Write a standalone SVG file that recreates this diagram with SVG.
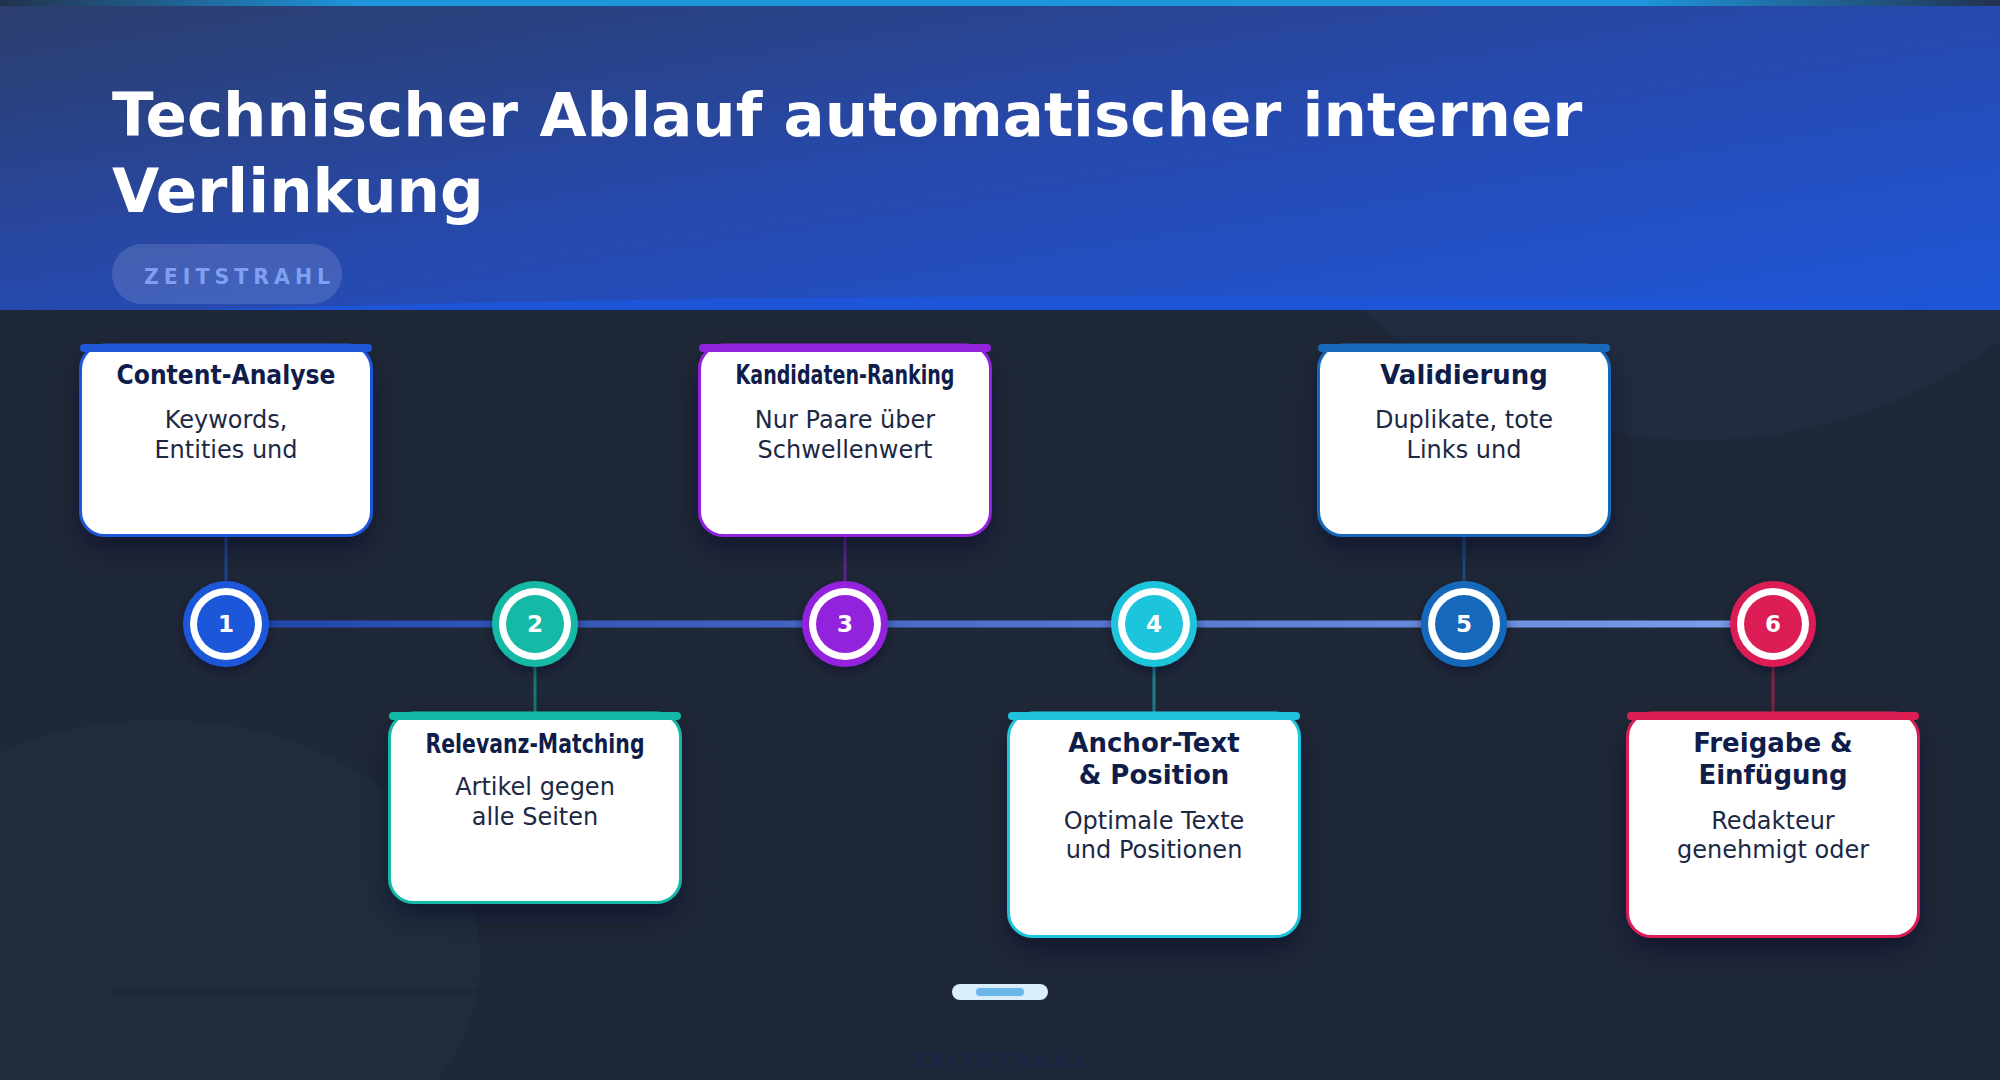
<svg xmlns="http://www.w3.org/2000/svg" width="2000" height="1080" viewBox="0 0 2000 1080">
<defs>
  <linearGradient id="hdr" x1="0" y1="0" x2="1" y2="1">
    <stop offset="0" stop-color="#2c3e6c"/>
    <stop offset="0.5" stop-color="#2649ad"/>
    <stop offset="1" stop-color="#1f56d8"/>
  </linearGradient>
  <linearGradient id="strip" x1="0" y1="0" x2="1" y2="0">
    <stop offset="0" stop-color="#22324e"/>
    <stop offset="0.18" stop-color="#1e96dc"/>
    <stop offset="0.82" stop-color="#1e96dc"/>
    <stop offset="1" stop-color="#22324e"/>
  </linearGradient>
  <linearGradient id="tl" gradientUnits="userSpaceOnUse" x1="226" y1="0" x2="1773" y2="0">
    <stop offset="0" stop-color="#1f44ab"/>
    <stop offset="1" stop-color="#7c9eec"/>
  </linearGradient>
  <filter id="sh" x="-30%" y="-30%" width="160%" height="180%">
    <feDropShadow dx="0" dy="12" stdDeviation="14" flood-color="#0a1020" flood-opacity="0.45"/>
  </filter>
  <filter id="csh" x="-50%" y="-50%" width="200%" height="200%">
    <feDropShadow dx="0" dy="4" stdDeviation="6" flood-color="#0a1020" flood-opacity="0.45"/>
  </filter>
</defs>
<style>
  text { font-family: "DejaVu Sans", "Liberation Sans", sans-serif; }
  .title { font-weight: 700; font-size: 61px; fill: #ffffff; }
  .tag { font-weight: 700; font-size: 20.5px; letter-spacing: 5px; fill: #7f9ff0; }
  .ct { font-weight: 700; font-size: 26px; fill: #0f1d4a; text-anchor: middle; }
  .cd { font-size: 24px; fill: #1c2844; text-anchor: middle; }
  .num { font-weight: 700; font-size: 23px; fill: #ffffff; text-anchor: middle; }
  .card { fill: #ffffff; stroke-width: 3; }
  .conn { stroke-width: 3; fill: none; stroke-opacity: 0.55; }
</style>

<!-- background -->
<rect x="0" y="0" width="2000" height="1080" fill="#1f2838"/>
<circle cx="1700" cy="-62" r="502" fill="#212c41"/>
<ellipse cx="160" cy="960" rx="320" ry="240" fill="#1f2d3b"/>
<line x1="112" y1="992" x2="1888" y2="992" stroke="#1c2534" stroke-width="1.5"/>

<!-- header -->
<g id="header">
  <rect x="0" y="0" width="2000" height="310" fill="url(#hdr)"/>
  <path d="M200 310 Q1000 285 2000 306 L2000 310 Z" fill="#1e55d8"/>
  <rect x="0" y="0" width="2000" height="6" fill="url(#strip)"/>
  <text class="title" x="112" y="136">Technischer Ablauf automatischer interner</text>
  <text class="title" x="112" y="212">Verlinkung</text>
  <rect x="112" y="244" width="230" height="60" rx="30" fill="#ffffff" fill-opacity="0.13"/>
  <text class="tag" x="144" y="284">ZEITSTRAHL</text>
</g>

<!-- timeline -->
<line x1="226" y1="624" x2="1773" y2="624" stroke="url(#tl)" stroke-width="7"/>

<!-- connectors -->
<g id="connectors">
  <line class="conn" x1="226" y1="537" x2="226" y2="581" stroke="#1f57d9"/>
  <line class="conn" x1="535" y1="667" x2="535" y2="712" stroke="#14b8a6"/>
  <line class="conn" x1="845" y1="537" x2="845" y2="581" stroke="#9322dc"/>
  <line class="conn" x1="1154" y1="667" x2="1154" y2="712" stroke="#1fc4dc"/>
  <line class="conn" x1="1464" y1="537" x2="1464" y2="581" stroke="#1769ba"/>
  <line class="conn" x1="1773" y1="667" x2="1773" y2="712" stroke="#dc1e55"/>
</g>

<!-- node 1 -->
<g id="node1">
  <rect class="card" x="80.5" y="345" width="291" height="190.5" rx="24" stroke="#1f57d9" filter="url(#sh)"/>
  <rect x="80" y="344" width="292" height="8" rx="4" fill="#1f57d9"/>
  <text class="ct" x="226" y="384" textLength="219" lengthAdjust="spacingAndGlyphs">Content-Analyse</text>
  <text class="cd" x="226" y="428">Keywords,</text>
  <text class="cd" x="226" y="457.5">Entities und</text>
  <g filter="url(#csh)">
    <circle cx="226" cy="624" r="43" fill="#1f57d9"/>
    <circle cx="226" cy="624" r="36" fill="#ffffff"/>
    <circle cx="226" cy="624" r="29" fill="#1f57d9"/>
  </g>
  <text class="num" x="226" y="632">1</text>
</g>

<!-- node 2 -->
<g id="node2">
  <rect class="card" x="389.5" y="713" width="291" height="189.5" rx="24" stroke="#14b8a6" filter="url(#sh)"/>
  <rect x="389" y="712" width="292" height="8" rx="4" fill="#14b8a6"/>
  <text class="ct" x="535" y="752.5" textLength="219" lengthAdjust="spacingAndGlyphs">Relevanz-Matching</text>
  <text class="cd" x="535" y="795">Artikel gegen</text>
  <text class="cd" x="535" y="824.5">alle Seiten</text>
  <g filter="url(#csh)">
    <circle cx="535" cy="624" r="43" fill="#14b8a6"/>
    <circle cx="535" cy="624" r="36" fill="#ffffff"/>
    <circle cx="535" cy="624" r="29" fill="#14b8a6"/>
  </g>
  <text class="num" x="535" y="632">2</text>
</g>

<!-- node 3 -->
<g id="node3">
  <rect class="card" x="699.5" y="345" width="291" height="190.5" rx="24" stroke="#9322dc" filter="url(#sh)"/>
  <rect x="699" y="344" width="292" height="8" rx="4" fill="#9322dc"/>
  <text class="ct" x="845" y="384" textLength="219" lengthAdjust="spacingAndGlyphs">Kandidaten-Ranking</text>
  <text class="cd" x="845" y="428">Nur Paare über</text>
  <text class="cd" x="845" y="457.5">Schwellenwert</text>
  <g filter="url(#csh)">
    <circle cx="845" cy="624" r="43" fill="#9322dc"/>
    <circle cx="845" cy="624" r="36" fill="#ffffff"/>
    <circle cx="845" cy="624" r="29" fill="#9322dc"/>
  </g>
  <text class="num" x="845" y="632">3</text>
</g>

<!-- node 4 -->
<g id="node4">
  <rect class="card" x="1008.5" y="713" width="291" height="223.5" rx="24" stroke="#1fc4dc" filter="url(#sh)"/>
  <rect x="1008" y="712" width="292" height="8" rx="4" fill="#1fc4dc"/>
  <text class="ct" x="1154" y="752">Anchor-Text</text>
  <text class="ct" x="1154" y="783.5">&amp; Position</text>
  <text class="cd" x="1154" y="828.5">Optimale Texte</text>
  <text class="cd" x="1154" y="858">und Positionen</text>
  <g filter="url(#csh)">
    <circle cx="1154" cy="624" r="43" fill="#1fc4dc"/>
    <circle cx="1154" cy="624" r="36" fill="#ffffff"/>
    <circle cx="1154" cy="624" r="29" fill="#1fc4dc"/>
  </g>
  <text class="num" x="1154" y="632">4</text>
</g>

<!-- node 5 -->
<g id="node5">
  <rect class="card" x="1318.5" y="345" width="291" height="190.5" rx="24" stroke="#1769ba" filter="url(#sh)"/>
  <rect x="1318" y="344" width="292" height="8" rx="4" fill="#1769ba"/>
  <text class="ct" x="1464" y="384">Validierung</text>
  <text class="cd" x="1464" y="428">Duplikate, tote</text>
  <text class="cd" x="1464" y="457.5">Links und</text>
  <g filter="url(#csh)">
    <circle cx="1464" cy="624" r="43" fill="#1769ba"/>
    <circle cx="1464" cy="624" r="36" fill="#ffffff"/>
    <circle cx="1464" cy="624" r="29" fill="#1769ba"/>
  </g>
  <text class="num" x="1464" y="632">5</text>
</g>

<!-- node 6 -->
<g id="node6">
  <rect class="card" x="1627.5" y="713" width="291" height="223.5" rx="24" stroke="#dc1e55" filter="url(#sh)"/>
  <rect x="1627" y="712" width="292" height="8" rx="4" fill="#dc1e55"/>
  <text class="ct" x="1773" y="752">Freigabe &amp;</text>
  <text class="ct" x="1773" y="783.5">Einfügung</text>
  <text class="cd" x="1773" y="828.5">Redakteur</text>
  <text class="cd" x="1773" y="858">genehmigt oder</text>
  <g filter="url(#csh)">
    <circle cx="1773" cy="624" r="43" fill="#dc1e55"/>
    <circle cx="1773" cy="624" r="36" fill="#ffffff"/>
    <circle cx="1773" cy="624" r="29" fill="#dc1e55"/>
  </g>
  <text class="num" x="1773" y="632">6</text>
</g>

<!-- pager -->
<g id="pager">
  <rect x="952" y="984" width="96" height="16" rx="8" fill="#dbeefc"/>
  <rect x="976" y="988" width="48" height="8" rx="4" fill="#6bb8e8"/>
</g>
<text x="1002" y="1068" text-anchor="middle" style="font-weight:700;font-size:20px;letter-spacing:4px;fill:#1b2646">ZEITSTRAHL</text>
</svg>
